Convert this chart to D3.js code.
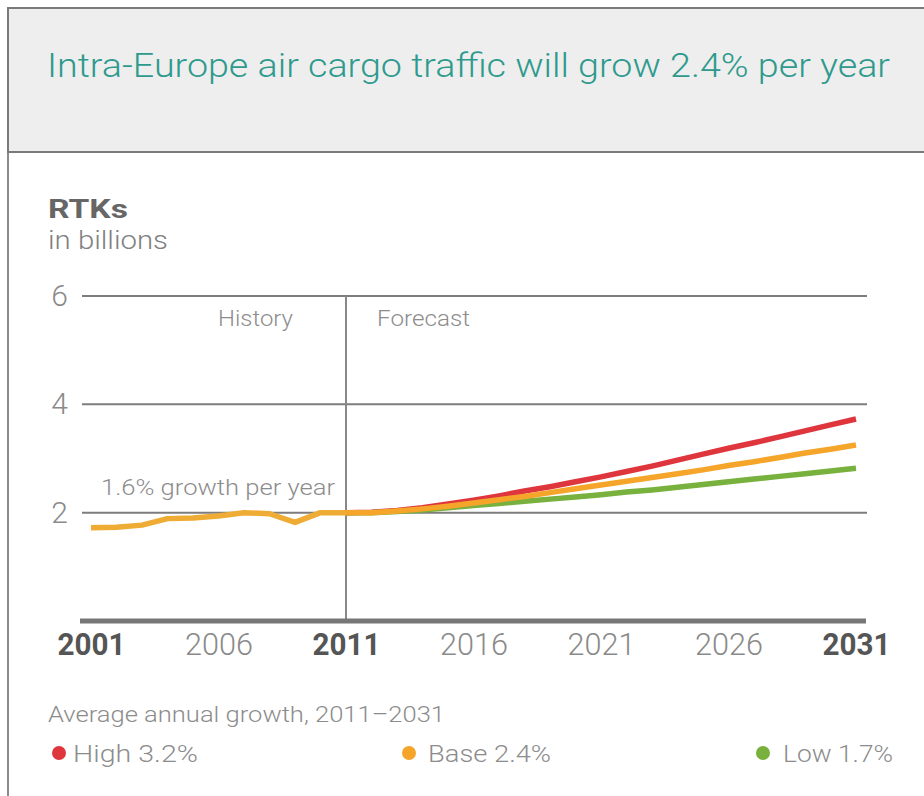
<!DOCTYPE html>
<html>
<head>
<meta charset="utf-8">
<script src="https://cdn.jsdelivr.net/npm/d3@7"></script>
<style>
  html, body { margin: 0; padding: 0; background: #ffffff; }
  svg { display: block; font-family: Roboto, "Liberation Sans", Arial, sans-serif; }
</style>
</head>
<body>
<svg id="chart" width="924" height="796"></svg>
<script>
// ---- data ----
const historyYears = [2001, 2002, 2003, 2004, 2005, 2006, 2007, 2008, 2009, 2010, 2011];
const historyValues = [1.72, 1.73, 1.77, 1.89, 1.90, 1.94, 2.00, 1.98, 1.82, 2.00, 2.00];

const forecastYears = [2011, 2012, 2013, 2014, 2015, 2016, 2017, 2018, 2019, 2020, 2021,
                       2022, 2023, 2024, 2025, 2026, 2027, 2028, 2029, 2030, 2031];
const highValues = [2.00, 2.01, 2.04, 2.09, 2.16, 2.23, 2.31, 2.40, 2.48, 2.57, 2.66,
                    2.76, 2.86, 2.97, 3.08, 3.19, 3.29, 3.40, 3.51, 3.62, 3.73];
const baseValues = [2.00, 2.00, 2.03, 2.07, 2.12, 2.18, 2.24, 2.30, 2.37, 2.44, 2.51,
                    2.58, 2.65, 2.72, 2.79, 2.87, 2.94, 3.02, 3.10, 3.17, 3.25];
const lowValues  = [2.00, 2.00, 2.02, 2.05, 2.09, 2.13, 2.17, 2.21, 2.25, 2.29, 2.33,
                    2.38, 2.42, 2.47, 2.52, 2.57, 2.62, 2.67, 2.72, 2.77, 2.82];

const xTickYears = [2001, 2006, 2011, 2016, 2021, 2026, 2031];
const boldTickYears = [2001, 2011, 2031];
const yTickValues = [2, 4, 6];

const legendLabels = ["High 3.2%", "Base 2.4%", "Low 1.7%"];
const titleText = "Intra-Europe air cargo traffic will grow 2.4% per year";

// ---- drawing ----
const svg = d3.select("#chart");
const C = { red: "#df353d", base: "#f5a52a", hist: "#eeac35", green: "#78b13d" };
const LIGHT = "#8c8c8c";

function txt(xp, yp, s, size, weight, fill, len, anchor) {
  const t = svg.append("text").attr("x", xp).attr("y", yp)
    .attr("font-size", size).attr("font-weight", weight).attr("fill", fill)
    .attr("text-anchor", anchor || "start").text(s);
  if (len) t.attr("textLength", len).attr("lengthAdjust", "spacingAndGlyphs");
  return t;
}

// frame and header
svg.append("rect").attr("x", 8).attr("y", 8).attr("width", 930).attr("height", 800)
  .attr("fill", "#ffffff").attr("stroke", "#8a8a8a").attr("stroke-width", 2);
svg.append("rect").attr("x", 8).attr("y", 8).attr("width", 930).attr("height", 144)
  .attr("fill", "#eeeeee").attr("stroke", "#7a7a7a").attr("stroke-width", 2);
txt(47, 77, titleText, 34, 300, "#2d9a8d", 843);

// axis title
txt(48, 218, "RTKs", 25, 700, "#666666", 80);
txt(48, 249, "in billions", 26, 300, "#808080", 120);

// scales
const x = d3.scaleLinear().domain([2001, 2031]).range([91, 856]);
const y = d3.scaleLinear().domain([0, 6]).range([621, 296]);

// y axis labels + grid
const yAxis = d3.axisLeft(y).tickValues(yTickValues).tickSize(0).tickPadding(14).tickFormat(d3.format("d"));
const gy = svg.append("g").attr("transform", "translate(82,0)").call(yAxis);
gy.select(".domain").remove();
gy.selectAll("text").attr("font-size", 30).attr("font-weight", 300).attr("fill", "#8a8a8a")
  .attr("font-family", "Roboto, 'Liberation Sans', sans-serif");
svg.append("g").selectAll("line").data(yTickValues).join("line")
  .attr("x1", 82).attr("x2", 867).attr("y1", d => y(d)).attr("y2", d => y(d))
  .attr("stroke", "#7d7d7d").attr("stroke-width", 2);

// divider and annotations
svg.append("line").attr("x1", x(2011)).attr("x2", x(2011)).attr("y1", y(6)).attr("y2", y(0))
  .attr("stroke", "#888").attr("stroke-width", 2);
txt(218, 326, "History", 22, 300, LIGHT, 75);
txt(377, 326, "Forecast", 22, 300, LIGHT, 93);
txt(101, 495, "1.6% growth per year", 22, 300, LIGHT, 234);

// x axis
const xAxis = d3.axisBottom(x).tickValues(xTickYears).tickSize(0).tickPadding(12).tickFormat(d3.format("d"));
const gx = svg.append("g").attr("transform", `translate(0,${y(0)})`).call(xAxis);
gx.select(".domain").remove();
gx.selectAll("text").attr("font-size", 31)
  .attr("font-family", "Roboto, 'Liberation Sans', sans-serif")
  .attr("font-weight", d => boldTickYears.includes(d) ? 700 : 300)
  .attr("fill", d => boldTickYears.includes(d) ? "#555" : "#8a8a8a")
  .attr("textLength", 68).attr("lengthAdjust", "spacingAndGlyphs");
svg.append("line").attr("x1", 80).attr("x2", 866).attr("y1", y(0)).attr("y2", y(0))
  .attr("stroke", "#777").attr("stroke-width", 5);

// lines
const line = d3.line().x(d => x(d[0])).y(d => y(d[1]));
function draw(years, vals, color) {
  svg.append("path").datum(years.map((yr, i) => [yr, vals[i]]))
    .attr("d", line).attr("fill", "none").attr("stroke", color)
    .attr("stroke-width", 5.5).attr("stroke-linejoin", "round").attr("stroke-linecap", "butt");
}
draw(forecastYears, highValues, C.red);
draw(forecastYears, lowValues, C.green);
draw(forecastYears, baseValues, C.base);
draw(historyYears, historyValues, C.hist);

// legend
txt(48, 722, "Average annual growth, 2011\u20132031", 22, 300, LIGHT, 397);
const legColors = [C.red, C.base, C.green];
const legX = [59, 409, 763];
const legTextX = [73, 428, 783];
const legLen = [125, 123, 110];
legendLabels.forEach((lab, i) => {
  svg.append("circle").attr("cx", legX[i]).attr("cy", 753).attr("r", 7).attr("fill", legColors[i]);
  txt(legTextX[i], 762, lab, 24, 300, LIGHT, legLen[i]);
});
</script>
</body>
</html>
